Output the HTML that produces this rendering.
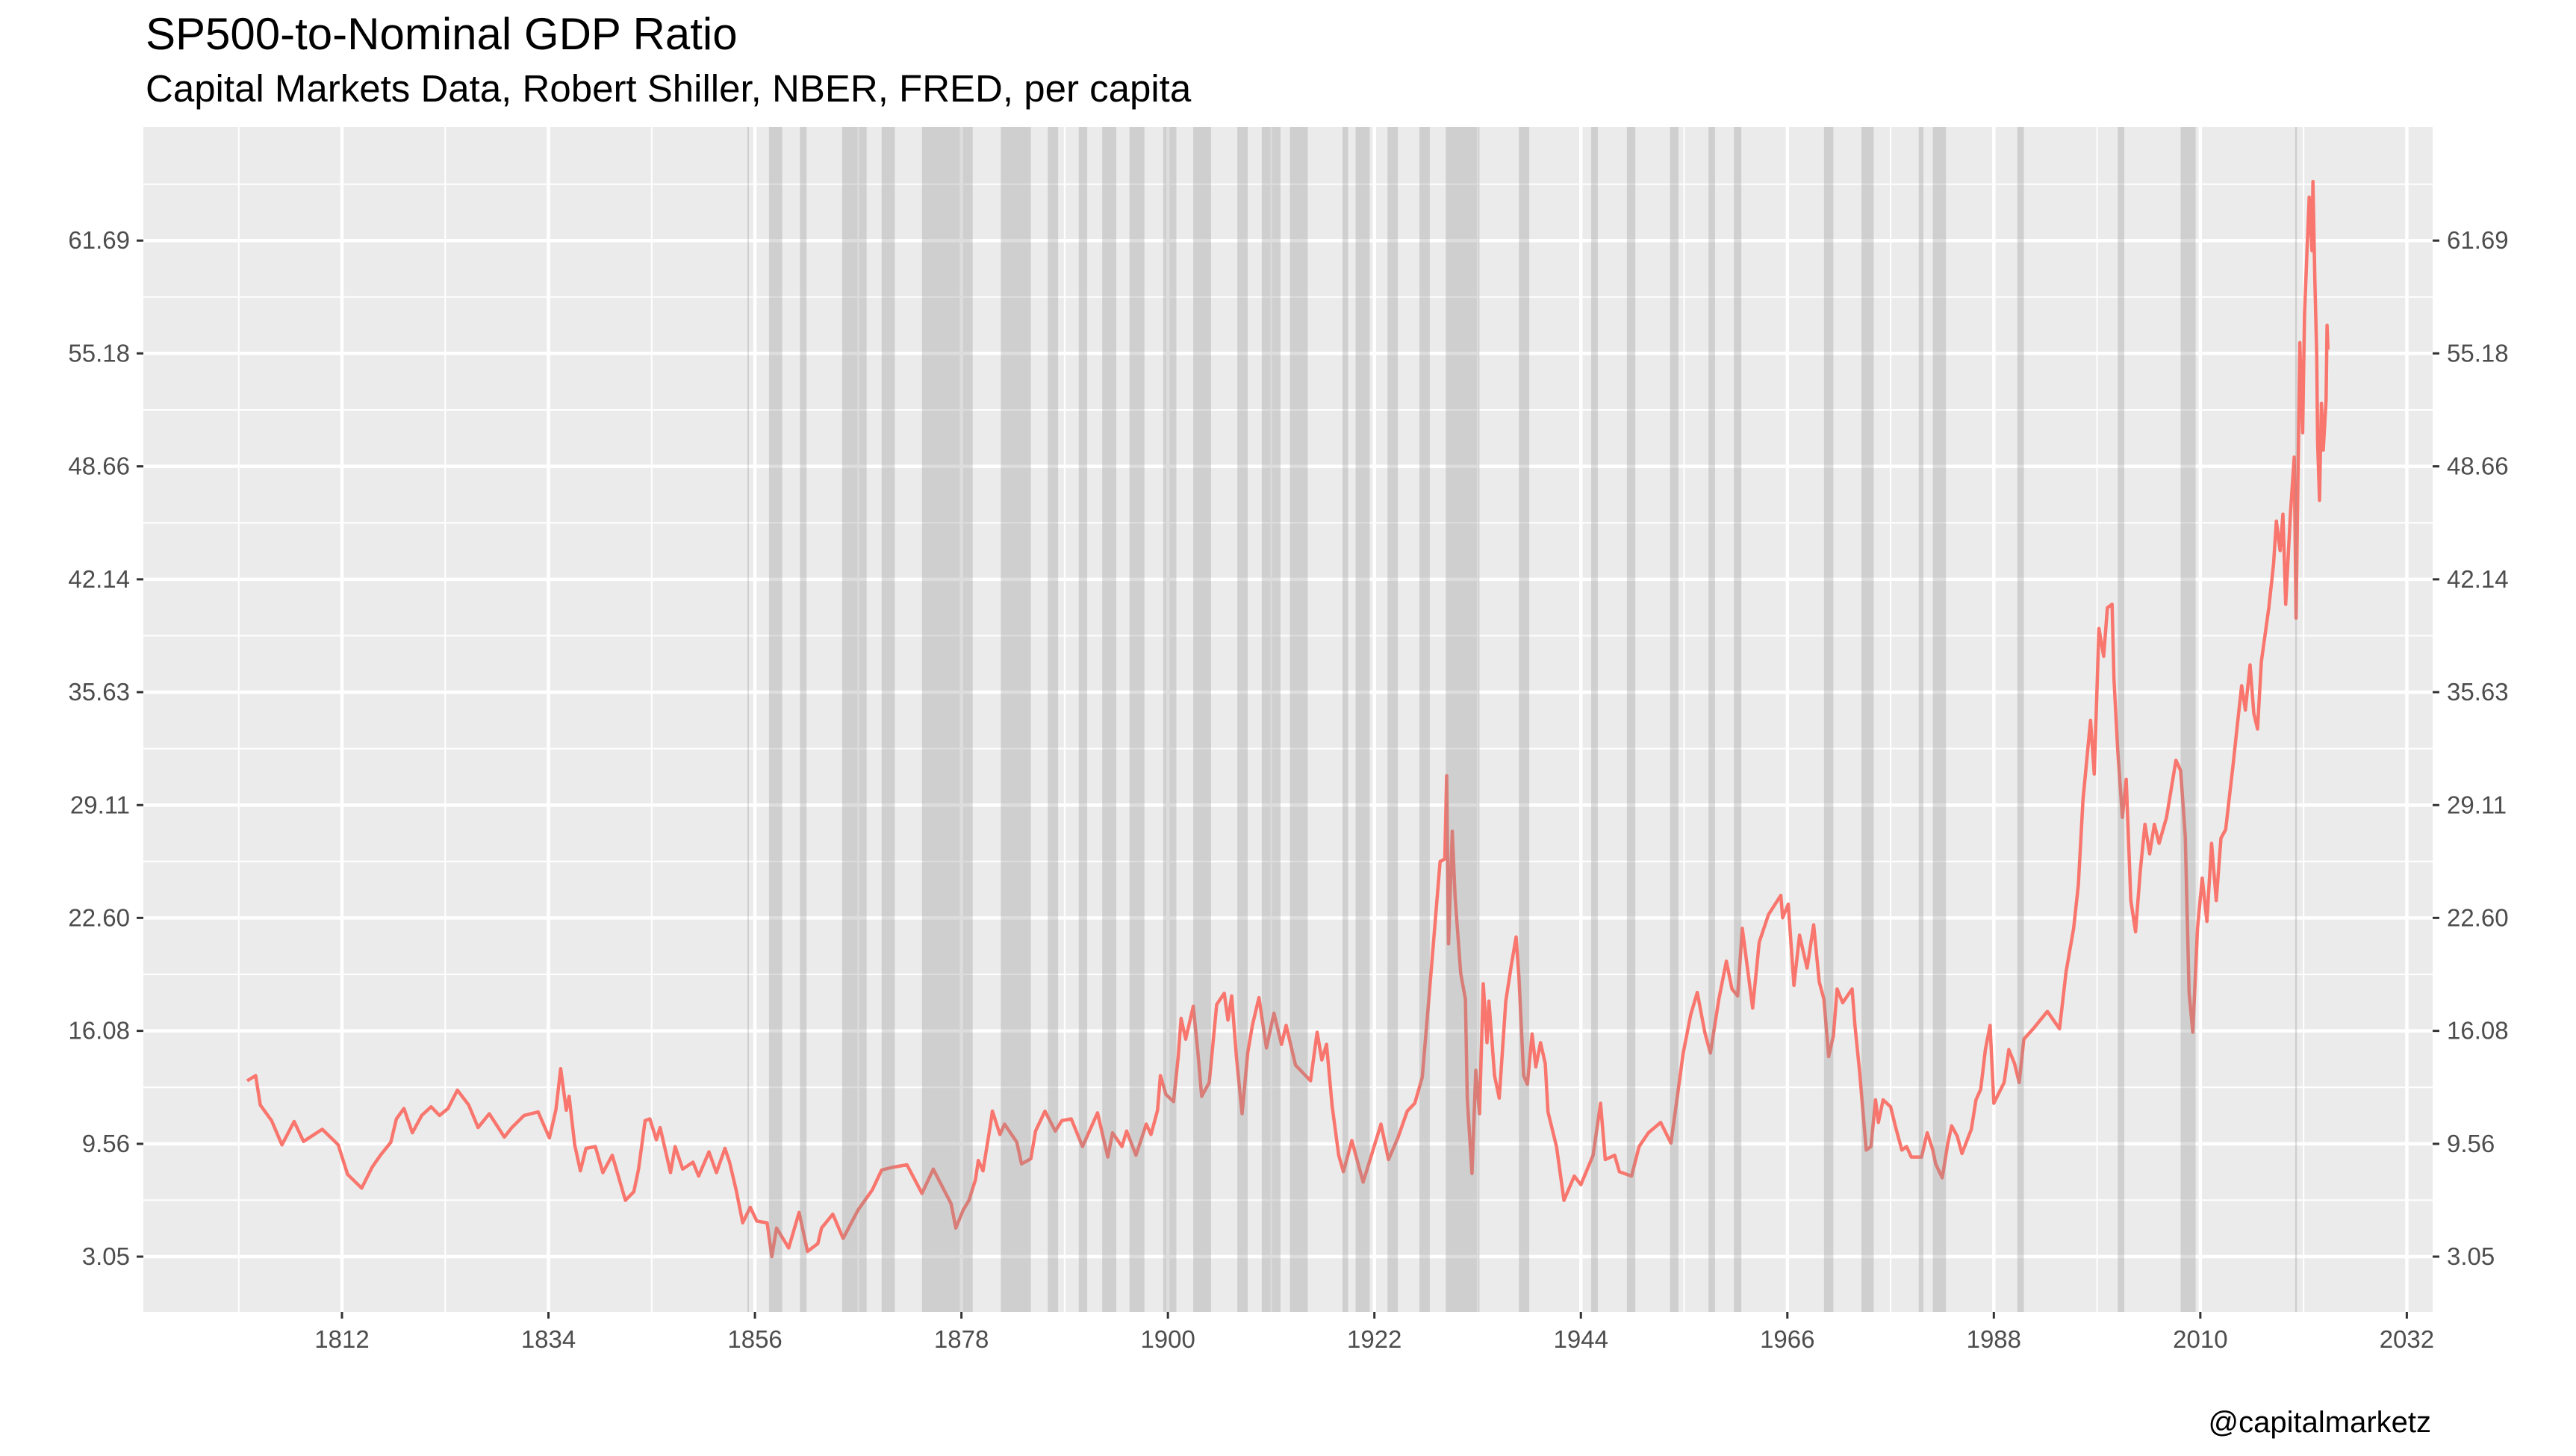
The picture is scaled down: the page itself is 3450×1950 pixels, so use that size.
<!DOCTYPE html>
<html><head><meta charset="utf-8">
<style>
html,body{margin:0;padding:0;background:#fff;}
svg{display:block;font-family:"Liberation Sans",Arial,sans-serif;}
</style></head>
<body>
<svg id="chart" width="3450" height="1950" viewBox="0 0 3450 1950" xmlns="http://www.w3.org/2000/svg">
<rect x="0" y="0" width="3450" height="1950" fill="#ffffff"/>
<text x="195" y="66" font-size="60" fill="#000">SP500-to-Nominal GDP Ratio</text>
<text x="195" y="136" font-size="51" fill="#000">Capital Markets Data, Robert Shiller, NBER, FRED, per capita</text>
<text x="3256" y="1918" font-size="40" fill="#000" text-anchor="end">@capitalmarketz</text>
<g id="panel"></g>
</svg>
<script>
const yTickLabels = ["3.05","9.56","16.08","22.60","29.11","35.63","42.14","48.66","55.18","61.69"];
const xTickYears = [1812,1834,1856,1878,1900,1922,1944,1966,1988,2010,2032];
const recStart = [1855.2,1857.5,1860.8,1865.3,1869.5,1873.8,1882.2,1887.2,1890.5,1893.0,1895.9,1899.5,1902.7,1907.4,1910.0,1913.0,1918.6,1920.0,1923.4,1926.8,1929.6,1937.4,1945.1,1948.9,1953.5,1957.6,1960.3,1969.9,1973.9,1980.0,1981.5,1990.5,2001.2,2007.9,2020.1];
const recEnd   = [1855.3,1858.9,1861.5,1867.9,1870.9,1879.2,1885.4,1888.3,1891.4,1894.5,1897.5,1900.9,1904.6,1908.5,1912.0,1914.9,1919.2,1921.5,1924.5,1927.9,1933.2,1938.5,1945.8,1949.8,1954.4,1958.3,1961.1,1970.9,1975.2,1980.5,1982.9,1991.2,2001.9,2009.5,2020.3];
const years = [1801.9,1802.8,1803.3,1804.5,1805.6,1806.9,1807.9,1809.9,1811.6,1812.6,1814.1,1815.2,1816.1,1817.2,1817.8,1818.6,1819.5,1820.5,1821.5,1822.4,1823.3,1824.3,1825.5,1826.5,1827.7,1829.3,1830.1,1831.4,1832.9,1834.1,1834.8,1835.3,1835.9,1836.2,1836.8,1837.4,1838.0,1839.0,1839.8,1840.8,1842.2,1843.1,1843.6,1844.3,1844.8,1845.5,1845.9,1847.0,1847.5,1848.3,1849.4,1850.0,1851.1,1851.9,1852.8,1853.3,1854.0,1854.7,1855.5,1856.2,1857.3,1857.8,1858.3,1859.6,1860.7,1861.6,1862.7,1863.1,1864.3,1865.4,1867.0,1868.5,1869.5,1870.6,1872.2,1873.8,1875.0,1876.9,1877.4,1878.2,1878.8,1879.5,1879.8,1880.3,1881.1,1881.3,1882.1,1882.6,1883.9,1884.4,1885.4,1885.9,1886.9,1888.0,1888.7,1889.7,1890.9,1892.5,1893.6,1894.1,1895.1,1895.6,1896.6,1897.7,1898.2,1898.9,1899.2,1899.8,1900.6,1901.1,1901.4,1901.9,1902.7,1903.2,1903.6,1904.4,1905.2,1906.0,1906.4,1906.8,1907.3,1907.9,1908.5,1909.0,1909.7,1910.5,1911.3,1912.1,1912.6,1913.6,1915.2,1915.9,1916.4,1916.9,1917.5,1918.2,1918.7,1919.6,1920.8,1921.6,1922.7,1923.5,1924.5,1925.5,1926.3,1927.1,1927.8,1928.3,1929.0,1929.5,1929.7,1929.9,1930.3,1930.6,1931.2,1931.7,1931.9,1932.4,1932.8,1933.2,1933.6,1934.0,1934.2,1934.8,1935.3,1936.0,1936.6,1937.1,1937.4,1937.9,1938.3,1938.8,1939.2,1939.7,1940.2,1940.5,1941.4,1942.2,1943.3,1944.0,1945.3,1946.1,1946.6,1947.6,1948.1,1949.4,1950.2,1951.2,1952.5,1953.6,1954.9,1955.7,1956.4,1957.2,1957.8,1958.7,1959.5,1960.1,1960.7,1961.2,1962.3,1963.0,1964.0,1965.3,1965.5,1966.1,1966.7,1967.3,1968.1,1968.8,1969.4,1969.9,1970.4,1970.9,1971.3,1971.9,1972.9,1973.2,1973.7,1974.4,1974.9,1975.4,1975.7,1976.2,1977.0,1977.5,1978.2,1978.7,1979.2,1980.3,1980.9,1981.5,1981.8,1982.5,1983.1,1983.5,1984.1,1984.6,1985.6,1986.1,1986.6,1987.1,1987.6,1988.0,1989.1,1989.6,1990.2,1990.7,1991.2,1992.2,1993.7,1995.0,1995.7,1996.5,1997.0,1997.5,1998.3,1998.7,1999.2,1999.7,2000.1,2000.6,2000.8,2001.2,2001.7,2002.1,2002.6,2003.1,2003.6,2004.1,2004.6,2005.1,2005.6,2006.4,2007.4,2007.9,2008.4,2008.8,2009.2,2009.7,2010.2,2010.7,2011.2,2011.7,2012.2,2012.7,2013.5,2014.0,2014.4,2014.8,2015.3,2015.7,2016.1,2016.5,2017.3,2017.8,2018.1,2018.5,2018.8,2019.1,2019.6,2020.0,2020.2,2020.6,2020.9,2021.1,2021.4,2021.6,2021.9,2022.0,2022.2,2022.4,2022.5,2022.7,2022.9,2023.1,2023.4,2023.5,2023.6];
const ratios = [13.2,13.5,11.8,10.9,9.5,10.85,9.7,10.4,9.5,7.8,7.0,8.2,8.9,9.65,11.0,11.6,10.2,11.2,11.7,11.2,11.6,12.66,11.8,10.5,11.3,9.95,10.5,11.2,11.4,9.9,11.55,13.9,11.5,12.3,9.5,8.0,9.3,9.4,7.9,8.9,6.3,6.8,8.1,10.9,11.0,9.8,10.5,7.9,9.4,8.1,8.5,7.7,9.1,7.9,9.3,8.5,6.9,5.0,5.9,5.1,5.0,3.05,4.7,3.55,5.6,3.35,3.8,4.7,5.5,4.1,5.75,6.9,8.05,8.2,8.35,6.7,8.1,6.1,4.7,5.75,6.3,7.5,8.6,8.0,10.7,11.45,10.1,10.7,9.65,8.4,8.7,10.3,11.45,10.3,10.9,11.0,9.4,11.35,8.8,10.2,9.4,10.3,8.9,10.7,10.1,11.5,13.5,12.4,12.0,14.6,16.8,15.6,17.5,14.8,12.3,13.1,17.6,18.25,16.7,18.1,14.6,11.3,14.8,16.4,18.0,15.1,17.1,15.3,16.4,14.1,13.2,16.0,14.4,15.3,11.75,8.9,7.95,9.75,7.35,8.75,10.7,8.65,9.9,11.45,11.9,13.4,17.9,21.2,25.85,26.0,30.8,21.1,27.6,23.8,19.4,17.9,12.2,7.85,13.8,11.3,18.8,15.4,17.8,13.5,12.2,17.8,19.9,21.5,19.2,13.5,13.0,15.9,14.0,15.4,14.2,11.4,9.4,6.3,7.7,7.2,8.9,11.9,8.65,8.9,7.95,7.7,9.4,10.2,10.8,9.6,14.8,17.0,18.3,16.0,14.8,17.9,20.1,18.5,18.1,22.0,17.4,21.2,22.8,23.9,22.6,23.4,18.7,21.6,19.7,22.2,18.9,17.9,14.6,15.8,18.5,17.7,18.5,16.4,13.7,9.2,9.4,12.1,10.8,12.1,11.7,10.6,9.2,9.4,8.8,8.8,10.2,9.2,8.4,7.6,9.6,10.6,10.0,9.0,10.4,12.1,12.7,15.0,16.4,11.9,13.1,15.0,14.2,13.1,15.6,16.2,17.2,16.2,19.5,22.0,24.5,29.4,34.0,30.9,39.3,37.7,40.5,40.7,36.4,32.3,28.4,30.6,23.6,21.8,25.3,28.0,26.3,28.0,26.9,28.4,31.7,31.1,27.3,18.3,16.0,22.0,24.9,22.4,26.9,23.6,27.2,27.7,31.5,34.0,36.0,34.6,37.2,34.4,33.5,37.4,40.5,43.0,45.5,43.8,45.9,40.7,45.9,49.2,39.9,55.8,50.6,57.4,61.6,64.2,61.1,65.1,59.5,55.2,50.0,46.7,52.3,49.6,52.5,56.8,55.4];

(function(){
  const NS = "http://www.w3.org/2000/svg";
  const panel = document.getElementById('panel');
  const svg = document.getElementById('chart');
  const L = 192, R = 3258, T = 170, B = 1757;
  const xPx = y => 458 + (y - 1812) * 12.57;
  const yMin = 3.05, yStep = 6.5156, yPx0 = 1683, yPxStep = 151.2;
  const yPx = v => yPx0 - (v - yMin) / yStep * yPxStep;
  function mk(tag, attrs, parent){ const e = document.createElementNS(NS, tag); for (const k in attrs) e.setAttribute(k, attrs[k]); (parent||panel).appendChild(e); return e; }

  const bg = mk('rect', {x:L, y:T, width:R-L, height:B-T, fill:'#EBEBEB'});
  
  

  const tickVals = yTickLabels.map(s => parseFloat(s));
  for (let i = 0; i <= tickVals.length; i++) {
    const v = yMin + (i - 0.5) * yStep;
    const py = yPx(v);
    if (py < T || py > B) continue;
    const g = mk('line', {x1:L, x2:R, y1:py, y2:py, stroke:'#ffffff', 'stroke-width':2});
    
    
  }
  for (let i = 0; i <= xTickYears.length; i++) {
    const yr = xTickYears[0] + (i - 0.5) * 22;
    const px = xPx(yr);
    if (px < L || px > R) continue;
    const g = mk('line', {x1:px, x2:px, y1:T, y2:B, stroke:'#ffffff', 'stroke-width':2});
    
    
  }
  tickVals.forEach(v => {
    const py = yPx(v);
    const g = mk('line', {x1:L, x2:R, y1:py, y2:py, stroke:'#ffffff', 'stroke-width':4.5});
    
    
  });
  xTickYears.forEach(yr => {
    const px = xPx(yr);
    const g = mk('line', {x1:px, x2:px, y1:T, y2:B, stroke:'#ffffff', 'stroke-width':4.5});
    
    
  });

  let d = '';
  years.forEach((yr, i) => { d += (i ? 'L' : 'M') + xPx(yr).toFixed(1) + ',' + yPx(ratios[i]).toFixed(1); });
  const line = mk('path', {d:d, fill:'none', stroke:'#F8766D', 'stroke-width':4.5, 'stroke-linejoin':'round'});
  
  

  recStart.forEach((s, i) => {
    const x1 = xPx(s), x2 = xPx(recEnd[i]);
    const r = mk('rect', {x:x1, y:T, width:Math.max(2, x2 - x1), height:B-T, fill:'#8f8f8f', 'fill-opacity':0.3});
    
    
  });

  tickVals.forEach((v, i) => {
    const py = yPx(v);
    const tl = mk('line', {x1:L-9, x2:L, y1:py, y2:py, stroke:'#333333', 'stroke-width':3}, svg);
    
    
    const tr = mk('line', {x1:R, x2:R+9, y1:py, y2:py, stroke:'#333333', 'stroke-width':3}, svg);
    
    
    const a = mk('text', {x:L-18, y:py+11, 'font-size':33, fill:'#4D4D4D', 'text-anchor':'end'}, svg);
    a.textContent = yTickLabels[i];
    
    
    const b = mk('text', {x:R+19, y:py+11, 'font-size':33, fill:'#4D4D4D'}, svg);
    b.textContent = yTickLabels[i];
    
    
  });
  xTickYears.forEach(yr => {
    const px = xPx(yr);
    const t = mk('line', {x1:px, x2:px, y1:B, y2:B+9, stroke:'#333333', 'stroke-width':3}, svg);
    
    
    const lb = mk('text', {x:px, y:B+48, 'font-size':33, fill:'#4D4D4D', 'text-anchor':'middle'}, svg);
    lb.textContent = String(yr);
    
    
  });
})();
</script>
</body></html>
